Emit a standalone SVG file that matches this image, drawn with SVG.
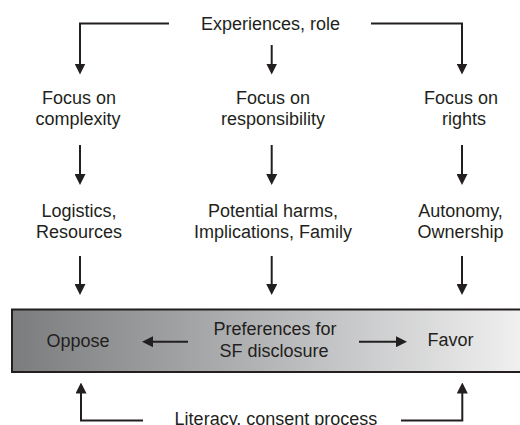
<svg xmlns="http://www.w3.org/2000/svg" width="520" height="425" viewBox="0 0 520 425">
  <defs>
    <linearGradient id="grad" x1="0" y1="0" x2="1" y2="0">
      <stop offset="0" stop-color="#7b7c7e"/>
      <stop offset="0.5" stop-color="#b4b5b7"/>
      <stop offset="1" stop-color="#f0f0f0"/>
    </linearGradient>
    <marker id="arr" viewBox="0 0 11 11" refX="8" refY="5.5" markerWidth="11" markerHeight="11" markerUnits="userSpaceOnUse" orient="auto">
      <path d="M0,0 L11,5.5 L0,11 z" fill="#231f20"/>
    </marker>
    <style>
      text { font-family: "Liberation Sans", Arial, sans-serif; font-size: 18px; fill: #231f20; text-anchor: middle; }
      .c { fill: none; stroke: #231f20; stroke-width: 2; marker-end: url(#arr); }
      .box { fill: url(#grad); stroke: #231f20; stroke-width: 2; }
    </style>
  </defs>
  <rect width="520" height="425" fill="#ffffff"/>

  <g id="preferences">
    <rect class="box" x="12" y="309.5" width="509" height="62.5"/>
    <text x="275" y="335">Preferences for</text>
    <text x="274" y="357">SF disclosure</text>
  </g>
  <g id="oppose"><text x="78" y="347">Oppose</text></g>
  <g id="favor"><text x="450.5" y="346">Favor</text></g>

  <g id="experiences"><text x="270.5" y="30">Experiences, role</text></g>
  <g id="focus-complexity"><text x="79" y="104">Focus on</text><text x="78" y="125">complexity</text></g>
  <g id="focus-responsibility"><text x="273" y="104">Focus on</text><text x="273" y="125">responsibility</text></g>
  <g id="focus-rights"><text x="461" y="104">Focus on</text><text x="464" y="125">rights</text></g>
  <g id="logistics"><text x="79" y="217">Logistics,</text><text x="79" y="238">Resources</text></g>
  <g id="harms"><text x="273" y="217">Potential harms,</text><text x="273" y="238">Implications, Family</text></g>
  <g id="autonomy"><text x="460.5" y="217">Autonomy,</text><text x="460.5" y="238">Ownership</text></g>
  <g id="literacy"><text x="276" y="425">Literacy, consent process</text></g>

  <g id="connectors">
    <path class="c" d="M169,23.5 H80 V71.5"/>
    <path class="c" d="M271.7,45 V71.5"/>
    <path class="c" d="M371,23.5 H462 V71.5"/>
    <path class="c" d="M80,145 V182"/>
    <path class="c" d="M271.7,145 V182"/>
    <path class="c" d="M462,145 V182"/>
    <path class="c" d="M80,256 V292"/>
    <path class="c" d="M271.7,256 V292"/>
    <path class="c" d="M462,256 V292"/>
    <path class="c" d="M188,341.7 H145"/>
    <path class="c" d="M359,341.7 H404"/>
    <path class="c" d="M143,420.5 H81 V385.5"/>
    <path class="c" d="M401,420.5 H462.3 V385.5"/>
  </g>
</svg>
